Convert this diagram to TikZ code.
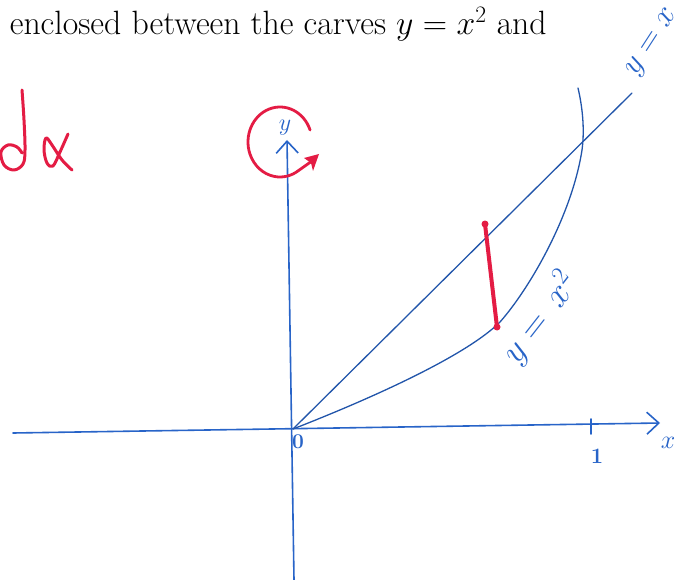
\RequirePackage{fix-cm}
\documentclass[tikz,border=0pt]{standalone}
\usepackage{fontspec}
\usetikzlibrary{arrows.meta}
\definecolor{pen}{RGB}{40,100,200}
\definecolor{redink}{RGB}{228,28,68}
\begin{document}
\begin{tikzpicture}[x=1pt,y=-1pt,
  bluepen/.style={draw=pen,line width=1.6pt,line cap=round,line join=round},
  thinpen/.style={draw=pen!85!black,line width=1.3pt,line cap=round},
  redpen/.style={draw=redink,line width=3pt,line cap=round,line join=round},
  bluelabel/.style={text=pen,inner sep=0pt},
  barb/.style={-{Straight Barb[length=12pt,width=22pt,line width=1.6pt]}}]
\useasboundingbox (0,0) rectangle (677,580);
\fill[white] (0,0) rectangle (677,580);

% printed text
\node[anchor=base west,inner sep=0pt] (title) at (-16,35)
  {\fontsize{33.7}{36}\selectfont a enclosed between the carves $y = x^2$ and};

% key points
\coordinate (O) at (293,429);
\coordinate (ytop) at (287,140);
\coordinate (ybot) at (294,580);
\coordinate (xleft) at (13,433);
\coordinate (xtip) at (660,423);
\coordinate (lineend) at (632,93);

% axes
\draw[bluepen,barb] (ybot) -- (ytop);
\draw[bluepen,barb] (xleft) -- (xtip);
\draw[bluepen] (591,419) -- (591,434);

% y = x
\draw[thinpen] (O) -- (lineend);
% y = x^2
\draw[thinpen] (O) .. controls (380,395) and (468,354) .. (500,322)
  .. controls (530,288) and (572,215) .. (582,150)
  .. controls (585,128) and (582,105) .. (578,88);

% labels
\node[bluelabel] (ylab) at (285,128) {\fontsize{24}{24}\selectfont$y$};
\node[bluelabel] (zero) at (298,442) {\fontsize{21}{21}\selectfont\bfseries 0};
\node[bluelabel] (one) at (597,456) {\fontsize{22}{22}\selectfont\bfseries 1};
\node[bluelabel] (xlab) at (668,443) {\fontsize{26}{26}\selectfont$x$};
\node[bluelabel,rotate=52] (parlab) at (540,318) {\fontsize{36}{36}\selectfont$y=\,x^2$};
\node[bluelabel,rotate=57] (linlab) at (653,43) {\fontsize{32}{32}\selectfont$y=x$};

% red marks
\draw[redink,line width=4pt,line cap=round] (485,224) -- (497,327);
\fill[redink] (485,224) circle (3.5) (497,327) circle (3.5);

\draw[redpen,line width=2.8pt] (280,142) ++(-20:32 and 35) arc[start angle=-20,end angle=-305,x radius=32,y radius=35] -- (312,161);
\fill[redink] (319,154) -- (304,158) -- (311,163) -- (313,171) -- cycle;

% "dx"
\draw[redpen] plot[smooth,tension=0.6] coordinates {(22,90) (24,120) (25,150) (23,164) (14,170) (4,165) (1,152) (8,145) (17,147) (22,153)};
\draw[redpen] plot[smooth,tension=0.6] coordinates {(68,134) (60,152) (53,166) (47,163) (44,150) (46,138) (52,145) (62,160) (72,170)};
\end{tikzpicture}
\end{document}
